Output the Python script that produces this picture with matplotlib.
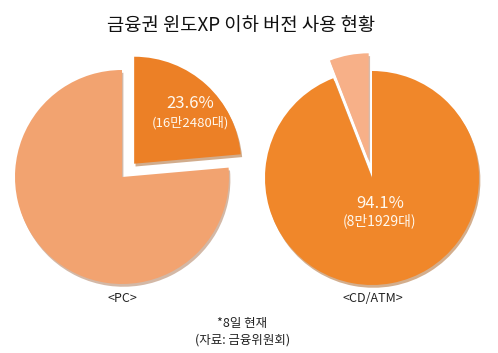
import numpy as np
import matplotlib.pyplot as plt

plt.rcParams['font.family'] = ['Noto Sans CJK KR', 'DejaVu Sans']

# 데이터
pc_vals = [23.6, 76.4]
atm_vals = [94.1, 5.9]
names = ['<PC>', '<CD/ATM>']

W, H = 498, 353
fig = plt.figure(figsize=(W / 100, H / 100), dpi=100)
ax = fig.add_axes([0, 0, 1, 1])

r = 107
ex = 18  # 픽셀 단위 (explode는 데이터 좌표)
shd = {'ox': 1, 'oy': -2, 'shade': 0.3}

# PC
ax.pie(pc_vals, colors=['#EC8026', '#F2A370'], startangle=90, counterclock=False,
       explode=[ex, 0], center=(122, H - 177), radius=r, frame=True,
       wedgeprops=dict(linewidth=0), shadow=shd)
# CD/ATM
ax.pie(atm_vals, colors=['#F0872A', '#F7B088'], startangle=90, counterclock=False,
       explode=[0, ex], center=(372, H - 178), radius=r, frame=True,
       wedgeprops=dict(linewidth=0), shadow=shd)
ax.set_xlim(0, W)
ax.set_ylim(0, H)
ax.set_aspect('equal')
ax.axis('off')

txt_c = '#FFF8EE'
ax.text(190, H - 103, '23.6%', color=txt_c, fontsize=12, ha='center', va='center', zorder=5)
ax.text(190, H - 123, '(16만2480대)', color=txt_c, fontsize=9.5, ha='center', va='center', zorder=5)
ax.text(380, H - 203, '94.1%', color=txt_c, fontsize=12, ha='center', va='center', zorder=5)
ax.text(380, H - 221, '(8만1929대)', color=txt_c, fontsize=10, ha='center', va='center', zorder=5)

ax.text(122, H - 298, names[0], fontsize=9, ha='center', va='center', color='#222222')
ax.text(373, H - 298, names[1], fontsize=9, ha='center', va='center', color='#222222')

ax.text(241, H - 25, '금융권 윈도XP 이하 버전 사용 현황', fontsize=13.5, ha='center', va='center',
        color='#111111')
ax.text(242, H - 323, '*8일 현재', fontsize=9, ha='center', va='center', color='#222222')
ax.text(243, H - 340, '(자료: 금융위원회)', fontsize=9, ha='center', va='center', color='#222222')

fig.savefig('out.png', dpi=100)
